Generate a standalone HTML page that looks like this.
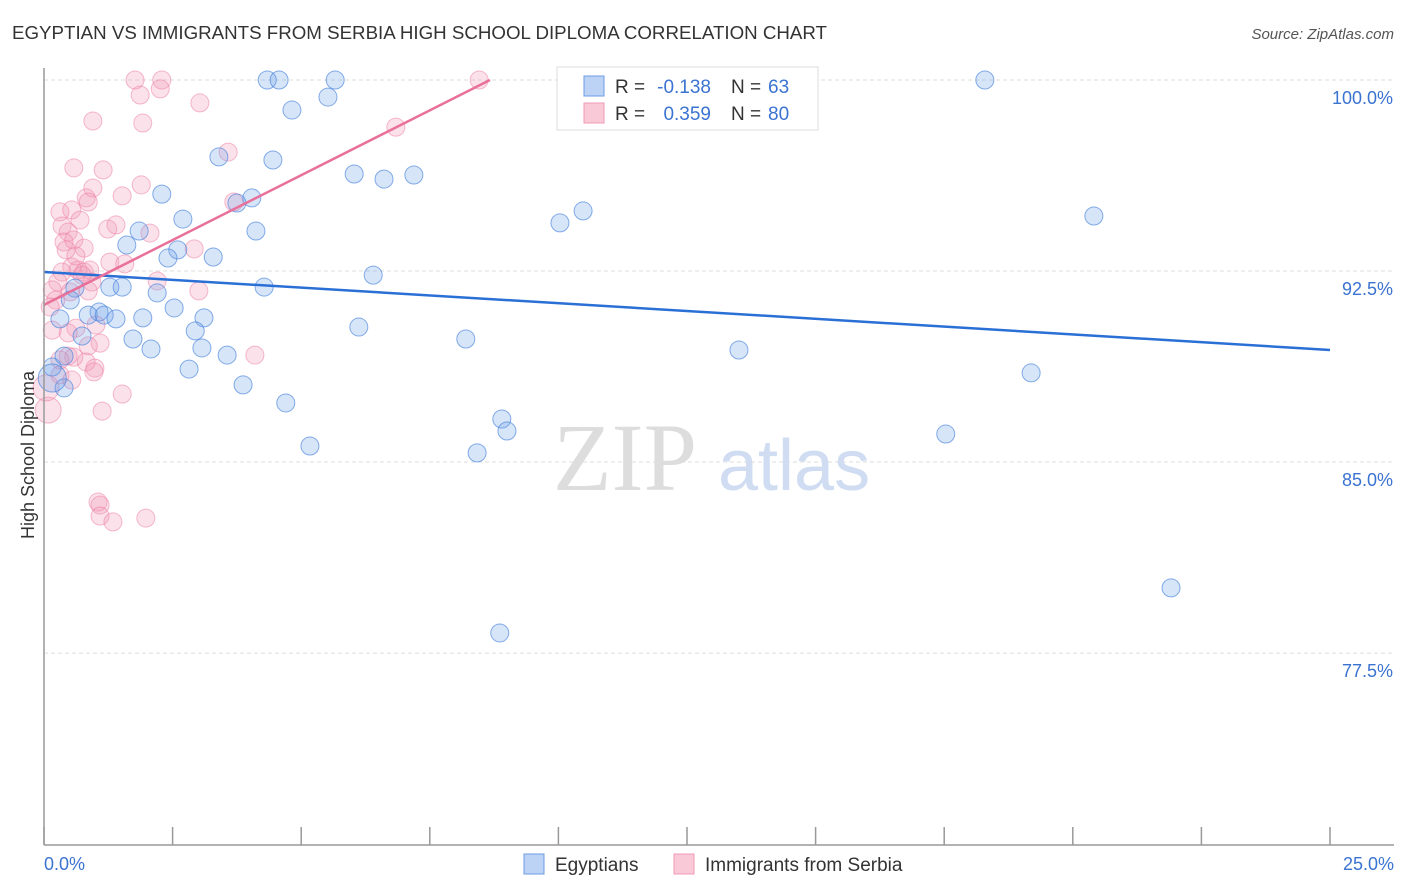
<!DOCTYPE html>
<html><head><meta charset="utf-8"><style>
body{margin:0;background:#fff;font-family:"Liberation Sans",sans-serif;}
svg{display:block}
</style></head><body>
<svg id="chart" width="1406" height="892">
<text x="12" y="39" font-size="18" fill="#333" textLength="815" lengthAdjust="spacingAndGlyphs">EGYPTIAN VS IMMIGRANTS FROM SERBIA HIGH SCHOOL DIPLOMA CORRELATION CHART</text>
<text x="1394" y="39" font-size="15" fill="#555" text-anchor="end" font-style="italic">Source: ZipAtlas.com</text>
<g id="grid"></g>
<text x="553" y="490" font-size="96" fill="#ddd" font-family="Liberation Serif,serif">ZIP</text>
<text x="718" y="490" font-size="72" fill="#cfdcf2">atlas</text>
<g id="pts"></g>
<g id="lines"></g>
<line x1="44" y1="68" x2="44" y2="845" stroke="#999" stroke-width="1.5"/>
<line x1="44" y1="845" x2="1394" y2="845" stroke="#999" stroke-width="1.5"/>
<text transform="translate(34,455) rotate(-90)" font-size="18" fill="#333" text-anchor="middle">High School Diploma</text>
<text x="44" y="870" font-size="18" fill="#3b73d1">0.0%</text>
<text x="1394" y="870" font-size="18" fill="#3b73d1" text-anchor="end">25.0%</text>
<g>
<rect x="557" y="67" width="261" height="63" fill="#fff" stroke="#ddd"/>
<rect x="584" y="76" width="20" height="20" fill="#bcd3f5" stroke="#6d9be3"/>
<rect x="584" y="103" width="20" height="20" fill="#f9c9d7" stroke="#f09ab5"/>
<text x="615" y="93" font-size="19" fill="#333">R =</text>
<text x="711" y="93" font-size="19" fill="#3b73d1" text-anchor="end">-0.138</text>
<text x="731" y="93" font-size="19" fill="#333">N =</text>
<text x="768" y="93" font-size="19" fill="#3b73d1">63</text>
<text x="615" y="120" font-size="19" fill="#333">R =</text>
<text x="711" y="120" font-size="19" fill="#3b73d1" text-anchor="end">0.359</text>
<text x="731" y="120" font-size="19" fill="#333">N =</text>
<text x="768" y="120" font-size="19" fill="#3b73d1">80</text>
</g>
<g>
<rect x="524" y="854" width="20" height="20" fill="#bcd3f5" stroke="#6d9be3"/>
<text x="555" y="871" font-size="19" fill="#333">Egyptians</text>
<rect x="674" y="854" width="20" height="20" fill="#f9c9d7" stroke="#f09ab5"/>
<text x="705" y="871" font-size="19" fill="#333">Immigrants from Serbia</text>
</g>
</svg>
<script>
const yTicks=[100,92.5,85,77.5];
const yTickLabels=["100.0%","92.5%","85.0%","77.5%"];
const xTicks=[0,2.5,5,7.5,10,12.5,15,17.5,20,22.5,25];
const blueX=[4.34,4.57,5.66,18.29,5.52,4.82,3.40,4.45,6.03,6.61,7.19,2.29,4.04,3.75,10.48,10.03,20.41,2.70,1.85,4.12,1.61,2.60,2.41,3.29,6.40,4.28,1.28,1.52,2.20,0.60,0.51,2.53,1.07,0.31,0.86,1.17,1.40,1.92,3.11,6.12,2.94,0.74,1.73,8.20,3.07,2.08,3.56,13.51,0.39,0.16,2.82,19.19,0.39,3.87,4.70,8.90,9.00,5.17,8.42,17.53,21.91,8.86,0.16];
const blueY=[100,100,100,100,99.33,98.82,96.98,96.86,96.31,96.11,96.27,95.52,95.37,95.17,94.86,94.39,94.66,94.54,94.07,94.07,93.52,93.33,93.01,93.05,92.34,91.87,91.87,91.87,91.64,91.83,91.36,91.05,90.89,90.62,90.77,90.77,90.62,90.66,90.66,90.30,90.15,89.95,89.83,89.83,89.48,89.44,89.20,89.40,89.16,88.73,88.65,88.50,87.91,88.03,87.32,86.69,86.22,85.63,85.36,86.10,80.06,78.29,88.3];
const pinkX=[1.77,2.29,2.26,8.46,3.03,0.95,1.92,3.58,0.58,1.15,1.89,0.95,1.52,0.82,0.86,0.31,0.54,3.69,0.35,0.47,1.24,1.40,0.39,0.58,0.78,2.06,2.92,1.28,1.57,0.54,0.66,0.35,0.78,0.89,0.74,0.93,0.27,0.16,0.23,0.51,0.12,0.86,3.01,2.20,6.84,0.62,1.01,0.47,0.16,1.09,0.86,0.47,0.58,0.31,0.82,0.99,0.97,0.31,0.54,1.52,1.13,0.08,1.05,1.09,1.09,1.34,1.98,4.10,0.04,0.43,0.62,1.87,0.70];
const pinkY=[100,100,99.65,100,99.10,98.39,98.31,97.17,96.55,96.47,95.88,95.76,95.45,95.37,95.21,94.82,94.90,95.21,94.27,94.03,94.15,94.31,93.64,93.72,93.40,93.99,93.37,92.85,92.78,92.66,92.54,92.46,92.46,92.54,92.34,92.07,92.07,91.76,91.36,91.68,91.09,91.72,91.72,92.11,98.15,90.26,90.38,90.07,90.18,89.67,89.56,89.16,89.12,89.01,88.93,88.69,88.54,88.42,88.22,87.67,87.00,87.04,83.43,83.31,82.88,82.65,82.80,89.20,87.91,93.33,93.09,99.41,94.50];
const blueFit=[92.46,89.40];
const pinkFit=[91.17,100,8.67];
const xs=v=>44+v*51.44, ys=v=>80+(100-v)*25.47;
const NS="http://www.w3.org/2000/svg";
function mk(t,a,p){const e=document.createElementNS(NS,t);for(const k in a)e.setAttribute(k,a[k]);p.appendChild(e);return e;}
const grid=document.getElementById('grid');
yTicks.forEach((v,i)=>{
 const l=mk('line',{x1:44,x2:1394,y1:ys(v),y2:ys(v),stroke:'#ddd','stroke-dasharray':'4,3'},grid);
 
 
 const t=mk('text',{x:1393,y:ys(v)+24,'font-size':18,fill:'#3b73d1','text-anchor':'end'},grid);
 t.textContent=yTickLabels[i];
 
 
});
xTicks.forEach(v=>{
 const l=mk('line',{x1:xs(v),x2:xs(v),y1:827,y2:845,stroke:'#999','stroke-width':1.5},grid);
 
 
});
const pts=document.getElementById('pts');
pinkX.forEach((x,i)=>{
 const big=i===61||i===68;
 const c=mk('circle',{cx:xs(x),cy:ys(pinkY[i]),r:big?13:9,fill:'rgba(242,150,180,0.28)',stroke:'rgba(236,130,165,0.55)','stroke-width':1},pts);
 
 
});
blueX.forEach((x,i)=>{
 const big=i===62;
 const c=mk('circle',{cx:xs(x),cy:ys(blueY[i]),r:big?14:9,fill:'rgba(110,160,235,0.28)',stroke:'rgba(70,130,220,0.65)','stroke-width':1},pts);
 
 
});
const lines=document.getElementById('lines');
const bl=mk('line',{x1:xs(0),y1:ys(blueFit[0]),x2:xs(25),y2:ys(blueFit[1]),stroke:'#2a6fd6','stroke-width':2.5},lines);


const pl=mk('line',{x1:xs(0),y1:ys(pinkFit[0]),x2:xs(pinkFit[2]),y2:ys(pinkFit[1]),stroke:'#e8709a','stroke-width':2.5},lines);


</script>
</body></html>
